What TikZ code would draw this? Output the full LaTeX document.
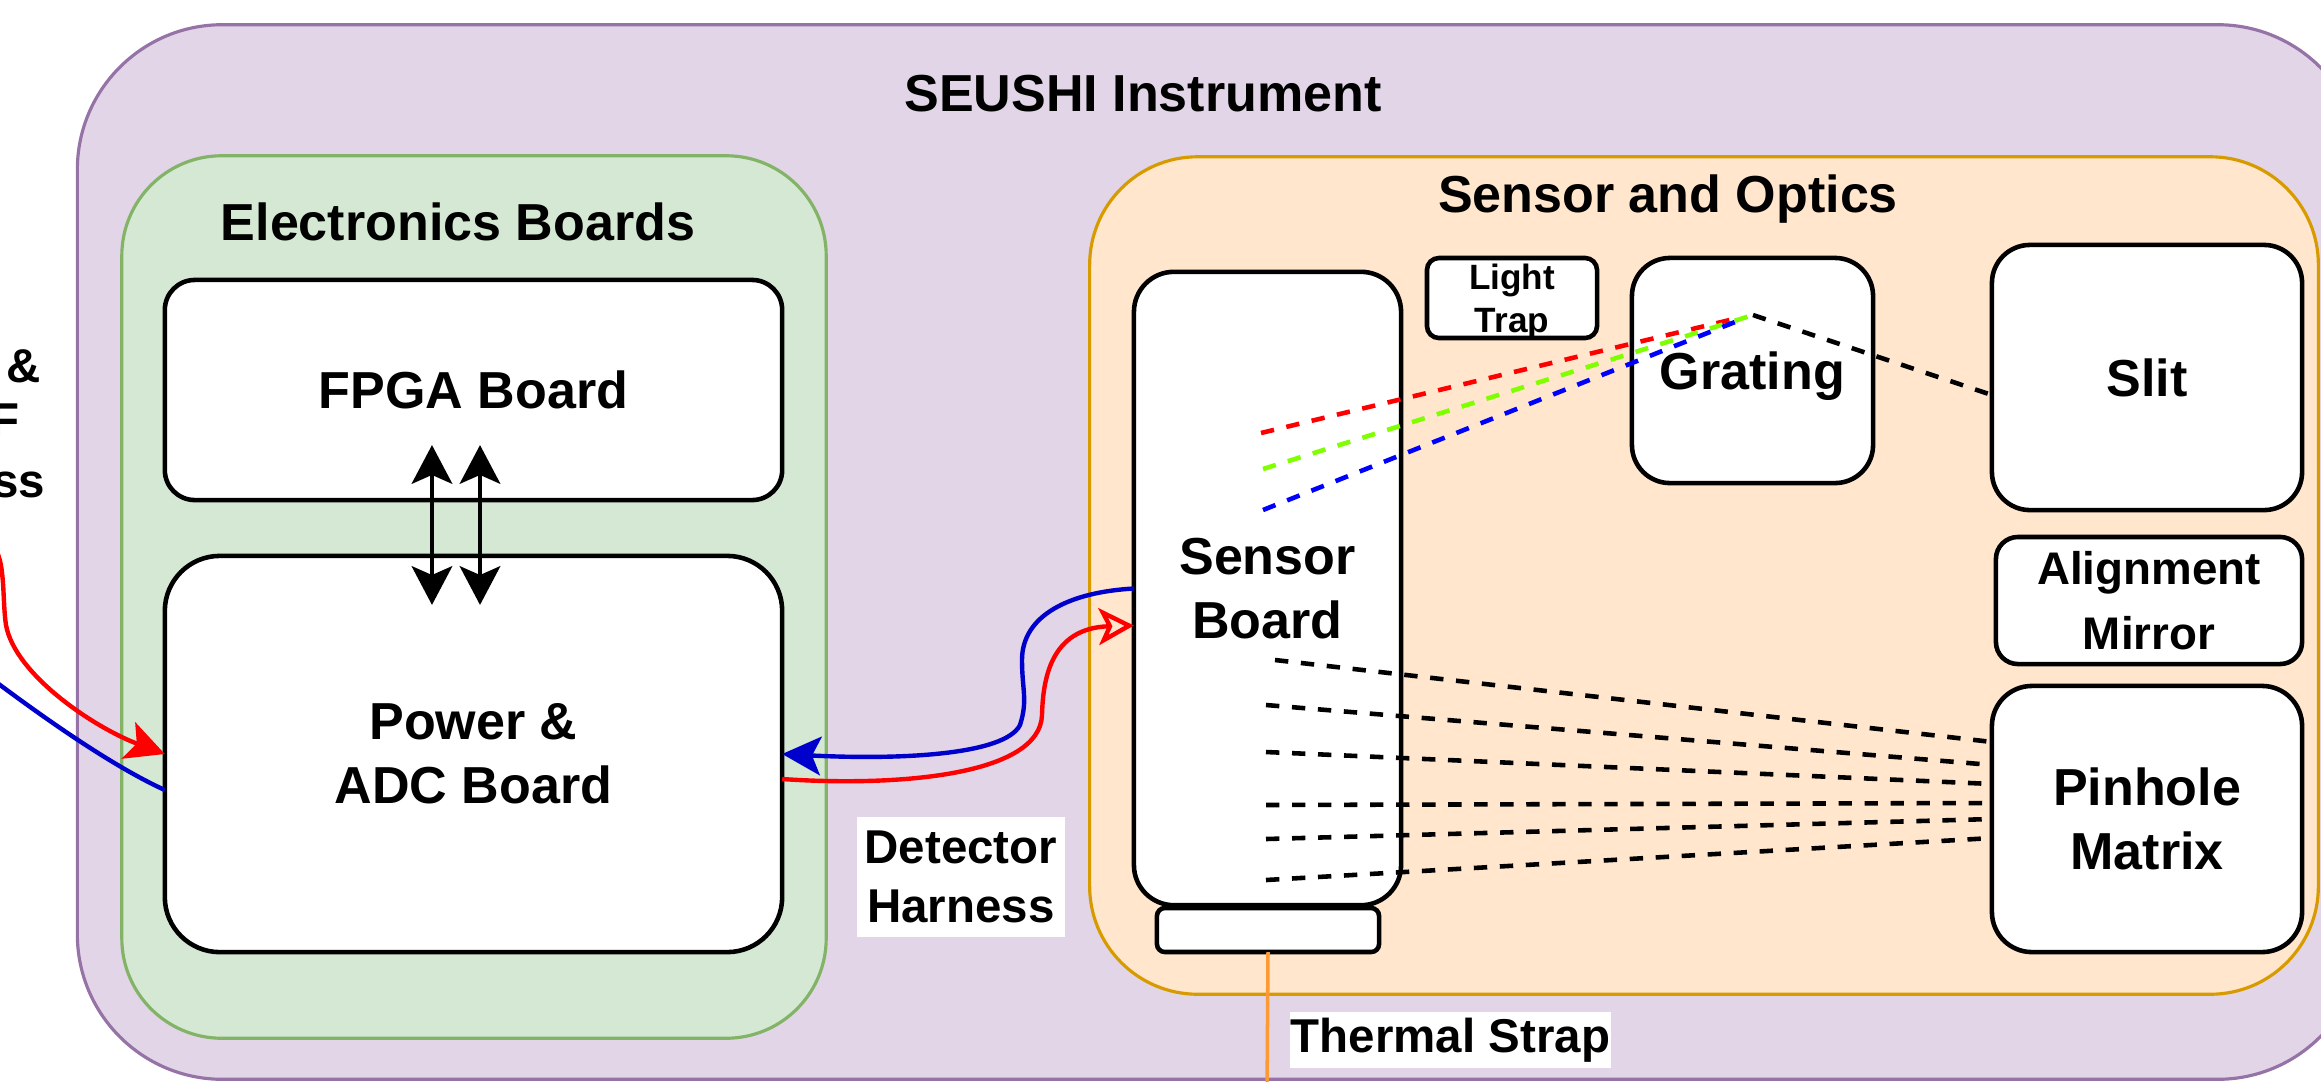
\documentclass[tikz,border=0pt]{standalone}
\usepackage{fontspec}
\setmainfont{Liberation Sans}
\usetikzlibrary{arrows.meta,calc}
\definecolor{purpfill}{HTML}{E1D5E7}
\definecolor{purpline}{HTML}{9673A6}
\definecolor{greenfill}{HTML}{D5E8D4}
\definecolor{greenline}{HTML}{82B366}
\definecolor{orfill}{HTML}{FFE6CC}
\definecolor{orline}{HTML}{D79B00}
\definecolor{hblue}{HTML}{0000CC}
\definecolor{hred}{HTML}{FF0000}
\definecolor{hgreen}{HTML}{80FF00}
\definecolor{strapcol}{HTML}{FF9933}
\newcommand*\fmain{\bfseries\fontsize{14.8}{18.2}\selectfont}
\newcommand*\fmid{\bfseries\fontsize{13.5}{16.8}\selectfont}
\newcommand*\fmir{\bfseries\fontsize{13}{18.5}\selectfont}
\newcommand*\fsmall{\bfseries\fontsize{10}{12.3}\selectfont}
\begin{document}
\begin{tikzpicture}[x=0.01cm,y=-0.01cm,
  container/.style={draw, line width=0.9pt, rectangle, inner sep=0pt, outer sep=0pt},
  blk/.style={draw=black, fill=white, line width=1.3pt, rectangle, inner sep=0pt, outer sep=0pt, align=center, font=\fmain},
  ttl/.style={font=\fmain, inner sep=0pt},
  lbl/.style={font=\fmid, align=center, inner sep=0pt},
  dblarrow/.style={line width=1.3pt, {Stealth[length=11pt,width=11.5pt,inset=2.5pt]}-{Stealth[length=11pt,width=11.5pt,inset=2.5pt]}},
  filltip/.style={-{Stealth[length=11pt,width=11pt,inset=2.5pt]}},
  opentip/.style={-{Stealth[open,length=10pt,width=10.5pt,inset=2.5pt]}},
  harness/.style={line width=1.25pt},
  beam/.style={line width=1.3pt, dash pattern=on 3.8pt off 3.6pt},
  strapline/.style={draw=strapcol, line width=1pt}
]
\useasboundingbox (0,0) rectangle (2321,1081);
\clip (0,0) rectangle (2321,1081);
\fill[white] (0,0) rectangle (2321,1081);

% containers
\node[container, fill=purpfill, draw=purpline, rounded corners=1.45cm, minimum width=22.84cm, minimum height=10.54cm] (inst) at (1220,552) {};
\node[container, fill=greenfill, draw=greenline, rounded corners=1cm, minimum width=7.04cm, minimum height=8.82cm] (elec) at (474,597) {};
\node[container, fill=orfill, draw=orline, rounded corners=1.08cm, minimum width=12.28cm, minimum height=8.37cm] (sens) at (1704,575.5) {};

% titles
\node[ttl, anchor=base] (tinst) at (1143,111) {SEUSHI Instrument};
\node[ttl, anchor=base] (telec) at (458,240) {Electronics Boards};
\node[ttl, anchor=base] (tsens) at (1668,212) {Sensor and Optics};

% boxes
\node[blk, rounded corners=0.3cm, minimum width=6.17cm, minimum height=2.2cm] (fpga) at (473.5,390) {FPGA Board};
\node[blk, rounded corners=0.55cm, minimum width=6.17cm, minimum height=3.96cm] (power) at (473.5,754) {Power \&\\ADC Board};
\node[blk, rounded corners=0.4cm, minimum width=2.67cm, minimum height=6.33cm] (sensor) at (1267.5,588.5) {Sensor\\Board};
\node[blk, rounded corners=0.08cm, minimum width=2.22cm, minimum height=0.44cm] (tpad) at (1268,930) {};
\node[blk, font=\fsmall, text depth=0pt, rounded corners=0.12cm, minimum width=1.7cm, minimum height=0.8cm] (trap) at (1512,298) {Light\\Trap};
\node[blk, text depth=0pt, rounded corners=0.38cm, minimum width=2.41cm, minimum height=2.25cm] (grating) at (1752.5,370.5) {Grating};
\node[blk, rounded corners=0.38cm, minimum width=3.1cm, minimum height=2.65cm] (slit) at (2147,377.5) {Slit};
\node[blk, font=\fmir, rounded corners=0.22cm, minimum width=3.06cm, minimum height=1.27cm] (mirror) at (2149,600.5) {Alignment\\Mirror};
\node[blk, rounded corners=0.4cm, minimum width=3.1cm, minimum height=2.66cm] (pinhole) at (2147,819) {Pinhole\\Matrix};

% labels
\node[lbl, fill=white, minimum width=2.07cm, minimum height=1.2cm] (harn) at (961,877) {Detector\\Harness};
\node[lbl, fill=white, minimum width=3.21cm, minimum height=0.56cm] (tstrap) at (1450.5,1040) {Thermal Strap};
\node[lbl, anchor=base east] (lft1) at (41,382) {\&};
\node[lbl, anchor=base east] (lft2) at (20,436) {F};
\node[lbl, anchor=base east] (lft3) at (46,497) {ss};

% FPGA <-> Power
\draw[dblarrow] ([xshift=-0.415cm,yshift=0.55cm]fpga.south) -- ([xshift=-0.415cm,yshift=-0.49cm]power.north);
\draw[dblarrow] ([xshift=0.065cm,yshift=0.55cm]fpga.south) -- ([xshift=0.065cm,yshift=-0.49cm]power.north);

% external harness (left)
\coordinate (extR) at (-8,546);
\coordinate (extB) at (-12,676);
\draw[harness, hred, filltip] (extR) .. controls (6,556) and (2,600) .. (6,625) .. controls (15,675) and (95,728) .. (power.west);
\draw[harness, hblue] (extB) .. controls (40,715) and (110,765) .. ([yshift=-0.36cm]power.west);

% detector harness
\draw[harness, hblue, filltip] (sensor.west) .. controls (1070,592) and (1022,615) .. (1022,660) .. controls (1022,690) and (1028,700) .. (1020,725) .. controls (1005,755) and (900,760) .. (power.east);
\draw[harness, hred, opentip] ([yshift=-0.25cm]power.east) .. controls (900,787) and (1040,775) .. (1042,715) .. controls (1043,680) and (1050,628) .. ([yshift=-0.37cm]sensor.west);

% spectral beams
\coordinate (sR) at (1261,433);
\coordinate (sG) at (1263,469);
\coordinate (sB) at (1263,510);
\coordinate (gR) at (1738,318);
\coordinate (gG) at (1753,315);
\coordinate (gB) at (1745,318);
\draw[beam, hred] (sR) -- (gR);
\draw[beam, hgreen] (sG) -- (gG);
\draw[beam, blue] (sB) -- (gB);
\draw[beam, black] (gG) -- ([yshift=-0.175cm]slit.west);

% pinhole beams
\coordinate (p1) at (1275,660);
\coordinate (p2) at (1266,705);
\coordinate (p3) at (1266,752);
\coordinate (p4) at (1266,805);
\coordinate (p5) at (1266,839);
\coordinate (p6) at (1266,880);
\draw[beam] (p1) -- ([yshift=0.77cm]pinhole.west);
\draw[beam] (p2) -- ([yshift=0.54cm]pinhole.west);
\draw[beam] (p3) -- ([yshift=0.35cm]pinhole.west);
\draw[beam] (p4) -- ([yshift=0.16cm]pinhole.west);
\draw[beam] (p5) -- (pinhole.west);
\draw[beam] (p6) -- ([yshift=-0.19cm]pinhole.west);

% thermal strap
\coordinate (strapend) at (1267,1095);
\draw[strapline] (tpad.south) -- (strapend);
\end{tikzpicture}
\end{document}
